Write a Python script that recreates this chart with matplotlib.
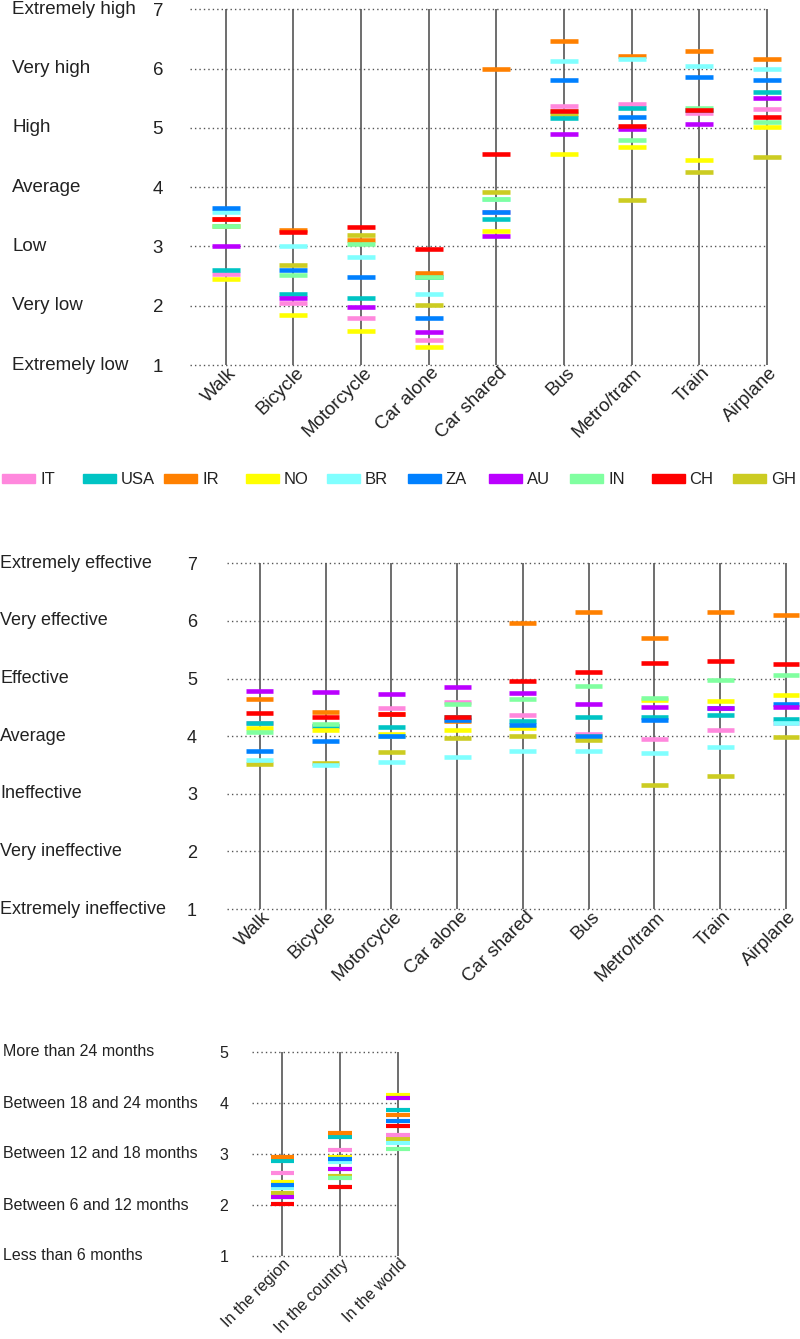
import matplotlib
matplotlib.use('Agg')
import matplotlib.pyplot as plt
import matplotlib.transforms as mtransforms
from matplotlib.patches import Rectangle
import numpy as np

plt.rcParams['font.family'] = ['Liberation Sans', 'DejaVu Sans']

# DATOS
# -----
countries = ['IT', 'USA', 'IR', 'NO', 'BR', 'ZA', 'AU', 'IN', 'CH', 'GH']
colors = {'IT': '#FF88DD', 'USA': '#00C4C4', 'IR': '#FF8000', 'NO': '#FFFF00',
          'BR': '#80FFFF', 'ZA': '#0080FF', 'AU': '#BB00FF', 'IN': '#80FFA0',
          'CH': '#FF0000', 'GH': '#CCCC22'}
# orden de dibujo (los ultimos quedan encima)
draw_order = ['GH', 'IT', 'USA', 'IR', 'NO', 'BR', 'IN', 'ZA', 'AU', 'CH']

modes = ['Walk', 'Bicycle', 'Motorcycle', 'Car alone', 'Car shared',
         'Bus', 'Metro/tram', 'Train', 'Airplane']
scope = ['In the region', 'In the country', 'In the world']

levels_1 = ['Extremely low', 'Very low', 'Low', 'Average', 'High',
            'Very high', 'Extremely high']
levels_2 = ['Extremely ineffective', 'Very ineffective', 'Ineffective',
            'Average', 'Effective', 'Very effective', 'Extremely effective']
levels_3 = ['Less than 6 months', 'Between 6 and 12 months',
            'Between 12 and 18 months', 'Between 18 and 24 months',
            'More than 24 months']

# Panel 1 (1-7)
p1_IT = [2.54, 2.04, 1.80, 1.43, 3.58, 5.37, 5.40, 5.25, 5.32]
p1_USA = [2.61, 2.20, 2.13, 2.49, 3.46, 5.16, 5.34, 5.30, 5.61]
p1_IR = [3.46, 3.27, 3.11, 2.56, 6.00, 6.46, 6.22, 6.30, 6.16]
p1_NO = [2.45, 1.85, 1.57, 1.30, 3.26, 4.56, 4.67, 4.46, 5.01]
p1_BR = [3.58, 3.00, 2.83, 2.20, 3.80, 6.12, 6.17, 6.05, 6.00]
p1_ZA = [3.65, 2.61, 2.49, 1.79, 3.58, 5.80, 5.19, 5.86, 5.80]
p1_AU = [3.00, 2.13, 1.98, 1.56, 3.18, 4.90, 4.98, 5.07, 5.51]
p1_IN = [3.35, 2.51, 3.04, 2.49, 3.80, 5.29, 4.80, 5.33, 5.10]
p1_CH = [3.46, 3.25, 3.33, 2.96, 4.56, 5.29, 5.03, 5.30, 5.19]
p1_GH = [3.35, 2.69, 3.20, 2.02, 3.91, 5.24, 3.78, 4.25, 4.51]

# Panel 2 (1-7)
p2_IT = [4.22, 4.17, 4.48, 4.60, 4.36, 4.03, 3.95, 4.10, 4.22]
p2_USA = [4.22, 4.17, 4.16, 4.33, 4.27, 4.33, 4.33, 4.37, 4.29]
p2_IR = [4.65, 4.42, 4.38, 4.27, 5.97, 6.16, 5.70, 6.15, 6.10]
p2_NO = [4.15, 4.10, 4.03, 4.10, 4.15, 4.00, 4.63, 4.61, 4.71]
p2_BR = [3.59, 3.50, 3.55, 3.63, 3.74, 3.74, 3.71, 3.81, 4.22]
p2_ZA = [3.75, 3.91, 4.00, 4.28, 4.19, 4.00, 4.28, 4.49, 4.55]
p2_AU = [4.78, 4.77, 4.74, 4.86, 4.75, 4.55, 4.51, 4.49, 4.51]
p2_IN = [4.08, 4.21, 4.00, 4.56, 4.65, 4.87, 4.66, 4.97, 5.06]
p2_CH = [4.41, 4.33, 4.38, 4.33, 4.95, 5.12, 5.27, 5.30, 5.25]
p2_GH = [3.52, 3.54, 3.72, 3.96, 4.01, 3.93, 3.15, 3.31, 3.98]

# Panel 3 (1-5)
p3_IT = [2.62, 3.08, 3.37]
p3_USA = [2.87, 3.34, 3.86]
p3_IR = [2.94, 3.42, 3.77]
p3_NO = [2.46, 2.95, 4.16]
p3_BR = [2.33, 2.85, 3.21]
p3_ZA = [2.40, 2.90, 3.65]
p3_AU = [2.15, 2.71, 4.09]
p3_IN = [2.15, 2.53, 3.10]
p3_CH = [2.02, 2.35, 3.55]
p3_GH = [2.23, 2.57, 3.29]

panel1 = dict(zip(countries, [p1_IT, p1_USA, p1_IR, p1_NO, p1_BR, p1_ZA, p1_AU, p1_IN, p1_CH, p1_GH]))
panel2 = dict(zip(countries, [p2_IT, p2_USA, p2_IR, p2_NO, p2_BR, p2_ZA, p2_AU, p2_IN, p2_CH, p2_GH]))
panel3 = dict(zip(countries, [p3_IT, p3_USA, p3_IR, p3_NO, p3_BR, p3_ZA, p3_AU, p3_IN, p3_CH, p3_GH]))

W, H = 800, 1339
fig = plt.figure(figsize=(W / 100, H / 100), dpi=100)


def px_axes(left, right, top, bottom):
    return fig.add_axes([left / W, 1 - bottom / H, (right - left) / W, (bottom - top) / H])


def draw_panel(ax, cats, data, levels, xmin, halfw, lw, fs, xfs, ypad, label_x, dx):
    x = np.arange(len(cats))
    ymin, ymax = 1, len(levels)
    for yv in range(ymin, ymax + 1):
        ax.axhline(yv, color='#555555', lw=1.0, ls=(0, (1, 2.2)), zorder=0, clip_on=False)
    ax.vlines(x, ymin, ymax, color='#555555', lw=1.2, zorder=1, clip_on=False)
    for c in draw_order:
        ax.hlines(data[c], x - halfw, x + halfw, color=colors[c], lw=lw,
                  zorder=2, clip_on=False)
    ax.set_xlim(xmin, len(cats) - 1)
    ax.set_ylim(ymin, ymax)
    for s in ax.spines.values():
        s.set_visible(False)
    ax.set_yticks(range(ymin, ymax + 1))
    ax.tick_params(axis='y', length=0, labelsize=fs, pad=ypad, colors='#222222')
    ax.tick_params(axis='x', length=0, labelsize=xfs, pad=4, colors='#222222')
    ax.set_xticks(x)
    ax.set_xticklabels(cats, rotation=45, ha='right', va='center', rotation_mode='anchor')
    off = mtransforms.ScaledTranslation(dx / 100, 0, fig.dpi_scale_trans)
    for lab in ax.get_xticklabels():
        lab.set_transform(lab.get_transform() + off)
    trans = mtransforms.blended_transform_factory(fig.transFigure, ax.transData)
    for i, name in enumerate(levels):
        ax.text(label_x / W, i + 1, name, transform=trans, ha='left', va='center',
                fontsize=fs, color='#222222')


# Graficar
ax1 = px_axes(190, 767, 9.3, 365)
draw_panel(ax1, modes, panel1, levels_1, -0.53, 0.207, 3.3, 13.5, 13.5, 19.4, 12, 8)

ax2 = px_axes(227, 786, 563.3, 909)
draw_panel(ax2, modes, panel2, levels_2, -0.5, 0.205, 3.3, 13, 13.5, 21.6, 0, 8)

ax3 = px_axes(252, 398, 1052, 1256)
draw_panel(ax3, scope, panel3, levels_3, -0.52, 0.2, 3.0, 11.5, 11.5, 17, 3, 6)

# Leyenda
for i, c in enumerate(countries):
    x0 = 2 + i * 81.2
    fig.add_artist(Rectangle((x0 / W, 1 - 483 / H), 33 / W, 9 / H,
                             transform=fig.transFigure, color=colors[c]))
    fig.text((x0 + 38) / W, 1 - 479 / H, c, ha='left', va='center',
             fontsize=12, color='#222222')

fig.savefig('out.png', dpi=100)
